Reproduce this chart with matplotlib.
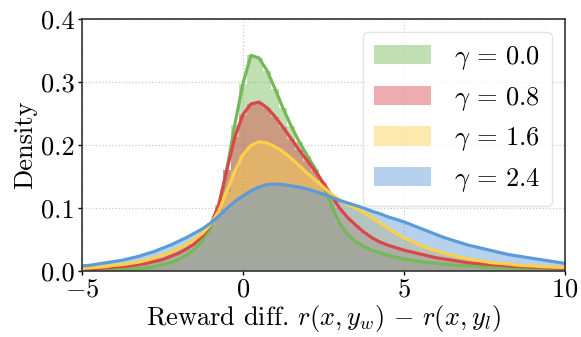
import numpy as np
import matplotlib.pyplot as plt

plt.rcParams['font.family'] = 'serif'
plt.rcParams['font.serif'] = ['cmr10']
plt.rcParams['mathtext.fontset'] = 'cm'
plt.rcParams['axes.formatter.use_mathtext'] = True
plt.rcParams['font.size'] = 19

# reward difference grid (step 0.25 from -5 to 10)
reward_diff = np.arange(-5, 10.001, 0.25)

gammas = ["0.0", "0.8", "1.6", "2.4"]
colors = ["#74b857", "#d9474a", "#fdd04a", "#5b9bd9"]

density_g00 = [0.001, 0.001, 0.0015, 0.002, 0.002, 0.003, 0.003, 0.004, 0.005, 0.007,
               0.010, 0.013, 0.018, 0.025, 0.034, 0.048, 0.068, 0.098, 0.160, 0.232,
               0.297, 0.342, 0.338, 0.318, 0.289, 0.258, 0.230, 0.205, 0.183, 0.162,
               0.136, 0.104, 0.076, 0.058, 0.047, 0.039, 0.033, 0.029, 0.025, 0.022,
               0.019, 0.017, 0.015, 0.013, 0.012, 0.011, 0.0095, 0.0085, 0.008, 0.007,
               0.0065, 0.006, 0.005, 0.005, 0.0045, 0.004, 0.004, 0.0035, 0.003, 0.003,
               0.003]
density_g08 = [0.002, 0.003, 0.004, 0.005, 0.006, 0.007, 0.008, 0.010, 0.012, 0.015,
               0.018, 0.023, 0.028, 0.035, 0.043, 0.056, 0.073, 0.105, 0.160, 0.212,
               0.248, 0.265, 0.268, 0.259, 0.245, 0.228, 0.210, 0.192, 0.175, 0.158,
               0.140, 0.120, 0.100, 0.085, 0.073, 0.062, 0.053, 0.046, 0.041, 0.037,
               0.033, 0.030, 0.027, 0.024, 0.021, 0.019, 0.017, 0.015, 0.013, 0.012,
               0.011, 0.010, 0.009, 0.008, 0.007, 0.0065, 0.006, 0.0055, 0.005, 0.0045,
               0.004]
density_g16 = [0.004, 0.005, 0.006, 0.007, 0.009, 0.010, 0.012, 0.014, 0.017, 0.021,
               0.025, 0.030, 0.036, 0.042, 0.050, 0.060, 0.074, 0.095, 0.126, 0.158,
               0.184, 0.199, 0.205, 0.203, 0.197, 0.189, 0.179, 0.167, 0.155, 0.144,
               0.133, 0.122, 0.113, 0.106, 0.100, 0.093, 0.085, 0.076, 0.068, 0.060,
               0.053, 0.047, 0.041, 0.036, 0.032, 0.028, 0.025, 0.022, 0.019, 0.017,
               0.015, 0.013, 0.012, 0.011, 0.0095, 0.0085, 0.008, 0.007, 0.0065, 0.006,
               0.0055]
density_g24 = [0.008, 0.009, 0.011, 0.013, 0.015, 0.017, 0.020, 0.023, 0.027, 0.031,
               0.036, 0.041, 0.047, 0.053, 0.060, 0.067, 0.076, 0.087, 0.099, 0.110,
               0.119, 0.127, 0.133, 0.137, 0.138, 0.137, 0.135, 0.133, 0.130, 0.126,
               0.122, 0.117, 0.112, 0.108, 0.104, 0.100, 0.095, 0.091, 0.086, 0.082,
               0.078, 0.073, 0.068, 0.063, 0.058, 0.053, 0.049, 0.045, 0.041, 0.038,
               0.035, 0.032, 0.029, 0.026, 0.024, 0.022, 0.020, 0.018, 0.016, 0.014,
               0.012]

densities = [density_g00, density_g08, density_g16, density_g24]

fig, ax = plt.subplots(figsize=(5.81, 3.37), dpi=100)
fig.subplots_adjust(left=0.141, right=0.972, bottom=0.196, top=0.944)

for g, color, dens in zip(gammas, colors, densities):
    ax.bar(reward_diff, dens, width=0.25, color=color, alpha=0.45, linewidth=0,
           label=rf"$\gamma\,=\,{g}$")
    ax.plot(reward_diff, dens, color=color, lw=2.3)

ax.set_xlim(-5, 10)
ax.set_ylim(0, 0.4)
ax.set_xticks([-5, 0, 5, 10])
ax.set_yticks([0.0, 0.1, 0.2, 0.3, 0.4])
ax.set_yticklabels(["0.0", "0.1", "0.2", "0.3", "0.4"])
ax.set_xlabel(r"Reward diff. $r(x, y_w)\,-\,r(x, y_l)$", labelpad=1)
ax.set_ylabel("Density", labelpad=3)
ax.grid(True, linestyle=':', color='#c8c8c8', linewidth=0.9)
ax.set_axisbelow(True)
for s in ax.spines.values():
    s.set_color('#333333')
    s.set_linewidth(1.2)
ax.tick_params(length=3, width=1, pad=2)

ax.legend(loc='upper right', handlelength=2.15, handleheight=0.75, handletextpad=0.85,
          labelspacing=0.48, borderpad=0.45, borderaxespad=0.5, framealpha=0.8,
          edgecolor='#dddddd', fancybox=True)

fig.savefig('out.png', dpi=100)
